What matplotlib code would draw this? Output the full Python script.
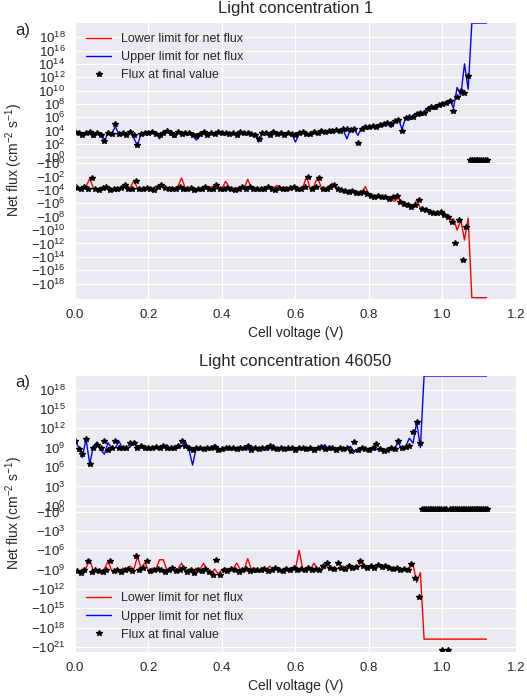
import numpy as np
import matplotlib
matplotlib.use('Agg')
import matplotlib.pyplot as plt
import matplotlib.ticker as mticker
import seaborn as sns

sns.set_style('darkgrid')
plt.rcParams['font.family'] = ['Liberation Sans', 'DejaVu Sans']
plt.rcParams['mathtext.fontset'] = 'custom'
plt.rcParams['mathtext.rm'] = 'Liberation Sans'
plt.rcParams['mathtext.it'] = 'Liberation Sans:italic'
plt.rcParams['mathtext.bf'] = 'Liberation Sans:bold'

# voltage sweep, 0.00 .. 1.12 V
volt = np.linspace(0, 1.12, 113)

# ---- light concentration 1 ----
top_upper = [8e3, 5e3, 3e3, 6e3, 4e3, 1e3, 5e3, 3e3, 2e2, 6e3,
             4e3, 4e4, 2.5e3, 6e3, 3e3, 5e3, 8e2, 6e1, 4e3, 6e3,
             3e3, 5e3, 4e3, 6e2, 5e3, 6e3, 3e3, 1e3, 5e3, 4e3,
             6e3, 3e3, 2.5e3, 4e2, 1.6e3, 5e3, 3e3, 6e3, 2.5e3, 4e3,
             5e3, 3e3, 6e3, 4e3, 2e3, 5e3, 3e3, 6e3, 4e3, 2.5e3,
             2e2, 4e3, 6e3, 3e3, 5e3, 4e3, 6e3, 2.5e3, 4e3, 3e3,
             2e2, 3e3, 5e3, 4e3, 2.5e3, 5e3, 6e3, 4e3, 8e3, 6e3,
             1e4, 8e3, 1.6e4, 1.3e4, 6e2, 2e4, 1.6e4, 2e3, 3e4, 2.5e4,
             5e4, 3e4, 6e4, 4e4, 1.6e5, 1e5, 3e4, 2e5, 6e5, 1.6e4,
             1e6, 4e5, 2e6, 4e6, 1.6e6, 8e6, 2.5e7, 6e7, 1.6e7, 8e7,
             1.3e8, 2e8, 4e8, 2.5e7, 3e10, 2e9, 1e14, 1.6e10, 1.3e20, 1.3e20,
             1.3e20, 1.3e20, 1.3e20]
top_lower = [-1e3, -4e3, -6e3, -3e3, -2e2, -5e3, -8e3, -4e3, -6e3, -3e3,
             -6e3, -8e3, -5e3, -3e3, -6e3, -5e3, -4e2, -5e3, -6e3, -4e3,
             -8e3, -5e3, -3e3, -2e3, -5e3, -6e3, -4e3, -5e3, -3e3, -1.6e2,
             -5e3, -6e3, -4e3, -8e3, -5e3, -3e3, -6e3, -4e3, -2e3, -5e3,
             -6e3, -5e2, -4e3, -6e3, -5e3, -3e3, -6e3, -2.5e2, -5e3, -4e3,
             -6e3, -5e3, -3e3, -6e3, -5e3, -2e3, -5e3, -4e3, -6e3, -5e3,
             -3e3, -5e3, -4e3, -1e2, -5e3, -3e3, -1.3e2, -4e3, -6e3, -3e3,
             -1e3, -5e3, -8e3, -1e4, -1.6e4, -1.3e4, -2e4, -1.6e4, -2.5e4, -3e3,
             -5e4, -1e5, -6e4, -8e4, -1e5, -1.6e5, -3e5, -5e5, -1.6e5, -1e6,
             -3e6, -1.6e6, -4e6, -3e5, -5e6, -8e6, -1.3e7, -1.6e7, -2e7, -1.6e7,
             -3e7, -5e7, -3e8, -2e8, -1e10, -3e8, -3e11, -1.6e8, -1.3e20, -1.3e20,
             -1.3e20, -1.3e20, -1.3e20]
# final flux: positive values at 0.00..1.07, negative at 0.005..1.065, zero after
top_flux_pos = [6e3, 5e3, 2e3, 5e3, 6e3, 2e3, 4e3, 2.5e3, 3e2, 5e3,
                3e3, 1e5, 3e3, 5e3, 2e3, 6e3, 2e3, 8e1, 3e3, 5e3,
                4e3, 6e3, 3e3, 2e3, 4e3, 8e3, 4e3, 2e3, 6e3, 3e3,
                5e3, 4e3, 2e3, 1.6e3, 3e3, 6e3, 2.5e3, 5e3, 3e3, 6e3,
                4e3, 5e3, 3e3, 5e3, 2.5e3, 6e3, 4e3, 5e3, 3e3, 2e3,
                5e2, 5e3, 4e3, 2.5e3, 6e3, 3e3, 5e3, 2e3, 5e3, 3e3,
                2e3, 4e3, 6e3, 3e3, 3e3, 6e3, 5e3, 8e3, 6e3, 1e4,
                8e3, 1.3e4, 1e4, 1.6e4, 2e4, 1.3e4, 2e4, 1.6e2, 2e4, 3e4,
                4e4, 5e4, 4e4, 8e4, 1e5, 1.3e5, 1e5, 3e5, 4e5, 1e4,
                8e5, 1.3e6, 1e6, 3e6, 4e6, 5e6, 1.6e7, 3e7, 4e7, 6e7,
                1e8, 1.6e8, 3e8, 1e7, 1.3e9, 1e10, 5e9, 1.6e12]
top_flux_neg = [-5e3, -8e3, -3e3, -6e3, -1.6e2, -6e3, -1e4, -5e3, -4e3, -1e4,
                -6e3, -8e3, -5e3, -1.6e3, -6e3, -8e3, -5e2, -6e3, -8e3, -5e3,
                -6e3, -1e4, -4e3, -2e3, -5e3, -8e3, -6e3, -8e3, -4e3, -6e3,
                -8e3, -5e3, -1e4, -6e3, -8e3, -3e3, -6e3, -8e3, -2e3, -6e3,
                -8e3, -5e3, -6e3, -1e4, -6e3, -4e3, -8e3, -3e3, -6e3, -8e3,
                -6e3, -8e3, -4e3, -6e3, -1e4, -5e3, -6e3, -8e3, -5e3, -4e3,
                -6e3, -8e3, -3e3, -1e2, -6e3, -4e3, -1.6e2, -6e3, -8e3, -4e3,
                -2e3, -6e3, -1e4, -1.6e4, -2e4, -1.6e4, -2.5e4, -3e4, -2e4, -4e4,
                -8e4, -1e5, -8e4, -1.3e5, -1e5, -2e5, -1.3e5, -8e4, -6e5, -1.3e6,
                -2e6, -3e6, -2e6, -3e5, -6e6, -1e7, -2e7, -2.5e7, -3e7, -2e7,
                -5e7, -1e8, -6e8, -1e12, -3e8, -3e14, -4e9]
top_flux_tail = [0, 0, 0, 0, 0, 0, 0, 0, 0, 0]

# ---- light concentration 46050 ----
bot_upper = [1.6e10, 1e9, 3e7, 2.5e10, 3e6, 1.6e9, 8e9, 5e8, 1e8, 6e9,
             8e8, 1e9, 1e10, 6e8, 8e8, 1.3e9, 8e9, 6e8, 1e9, 8e8,
             1.3e9, 1e9, 8e8, 1.6e9, 1e9, 3e9, 6e8, 1.3e9, 8e8, 1.6e9,
             1e10, 6e8, 2e6, 1e9, 6e8, 1e9, 5e8, 8e8, 3e9, 5e8,
             8e8, 6e8, 1.3e9, 5e8, 1e9, 6e8, 8e8, 5e8, 2e9, 6e8,
             1e9, 5e8, 8e8, 6e8, 3e9, 5e8, 8e8, 1e9, 4e8, 8e8,
             6e8, 1.3e9, 5e8, 8e8, 4e8, 1e9, 6e8, 8e8, 3e9, 5e8,
             8e8, 6e8, 1e9, 4e8, 8e8, 1.6e9, 2e8, 6e8, 8e8, 4e8,
             6e8, 1e9, 5e8, 8e8, 3e8, 6e8, 4e8, 1e9, 6e9, 5e8,
             1.6e9, 3e10, 5e9, 1e13, 1e9, 1.3e20, 1.3e20, 1.3e20, 1.3e20, 1.3e20,
             1.3e20, 1.3e20, 1.3e20, 1.3e20, 1.3e20, 1.3e20, 1.3e20, 1.3e20, 1.3e20, 1.3e20,
             1.3e20, 1.3e20, 1.3e20]
bot_lower = [-1e9, -3e9, -1e9, -6e8, -3e7, -1.6e9, -1e9, -2e9, -8e8, -5e7,
             -1.6e9, -1e9, -2e9, -6e8, -1e9, -3e8, -1e9, -1e7, -6e8, -8e7,
             -1.3e9, -6e8, -1e9, -3e7, -3e7, -1e9, -6e8, -2e9, -8e8, -1e8,
             -1.6e9, -8e8, -3e9, -6e8, -1e9, -1e8, -1.6e9, -6e9, -8e8, -5e9,
             -1e9, -6e8, -1.6e9, -8e8, -1e8, -1e9, -1.3e9, -2e7, -1e9, -6e8,
             -1.6e9, -5e8, -1e9, -3e8, -1e9, -8e8, -1.6e9, -6e8, -1e9, -5e8,
             -8e8, -1e6, -1e9, -6e8, -1.6e9, -1e8, -8e8, -1.3e9, -5e8, -2e8,
             -1e9, -6e8, -8e8, -3e8, -6e8, -4e8, -3e8, -5e8, -4e7, -3e8,
             -4e8, -6e8, -2e8, -3e8, -5e8, -2e8, -4e8, -6e8, -1e9, -8e8,
             -1.3e9, -6e8, -1.6e8, -1e11, -3e9, -6e19, -6e19, -6e19, -6e19, -6e19,
             -6e19, -6e19, -6e19, -6e19, -6e19, -6e19, -6e19, -6e19, -6e19, -6e19,
             -6e19, -6e19, -6e19]
bot_flux_pos = [1.3e10, 6e8, 1e8, 2.5e10, 2.5e6, 1e9, 3e9, 1e9, 1.3e10, 5e8,
                1e9, 1.3e10, 1e9, 8e8, 1e9, 6e9, 5e9, 8e8, 1.6e9, 1e9,
                8e8, 1e9, 1.3e9, 8e8, 1.6e9, 1e9, 1e9, 8e8, 2e9, 1.3e10,
                2e9, 1e9, 5e8, 8e8, 1e9, 6e8, 1e9, 8e8, 1.3e9, 5e8,
                6e8, 1e9, 8e8, 1e9, 6e8, 1e9, 8e8, 1.6e9, 5e8, 1e9,
                6e8, 1e9, 8e8, 2e9, 1e9, 6e8, 1e9, 6e8, 8e8, 1e9,
                5e8, 8e8, 1e9, 6e8, 1e9, 5e8, 1e9, 1.3e9, 6e8, 8e8,
                1e9, 5e8, 8e8, 6e8, 1e9, 3e8, 8e9, 5e8, 8e8, 6e8,
                5e8, 8e8, 4e9, 6e8, 3e8, 5e8, 8e8, 6e8, 1e10, 1e9,
                1.3e9, 2e9, 3e11, 1e13, 6e9]
bot_flux_neg = [-1.6e9, -3e9, -1e9, -5e7, -2e9, -1e9, -1.6e9, -2e9, -1e9, -5e7,
                -1.6e9, -1e9, -2e9, -1e9, -8e8, -1.6e9, -8e6, -1e9, -6e8, -5e7,
                -1.6e9, -1e9, -8e8, -1e9, -2e9, -1e9, -6e8, -1.6e9, -1e9, -5e8,
                -2e9, -1e9, -3e9, -1e9, -1.6e9, -8e8, -2e9, -6e9, -3e7, -6e9,
                -1e9, -1.6e9, -8e8, -1e9, -2e9, -1e9, -8e8, -1.6e9, -1e9, -1.3e9,
                -1e9, -8e8, -1.6e9, -1e9, -6e8, -1e9, -1.6e9, -8e8, -1e9, -6e8,
                -1e9, -8e8, -1.3e9, -6e8, -1e9, -8e8, -1e9, -3e8, -1e8, -6e8,
                -8e8, -1e8, -6e8, -8e8, -3e8, -6e8, -4e8, -4e7, -3e8, -6e8,
                -3e8, -5e8, -2e8, -4e8, -3e8, -6e8, -8e8, -6e8, -1e9, -8e8,
                -1e9, -1.6e8, -2e10, -1.6e13]
bot_flux_tail = [0, 0, 0, 0, 0, 0, 0, 0, 0, 0, 0, -2.5e21, 0, 0, -2.5e21, 0, 0, 0,
                 0, 0, 0, 0, 0, 0, 0, 0, 0, 0, 0, 0, 0, 0, 0, 0, 0, 0]

top_flux_v = np.concatenate([volt[:len(top_flux_pos)], volt[:len(top_flux_neg)] + 0.005,
                             np.linspace(1.075, 1.12, len(top_flux_tail))])
top_flux = np.concatenate([top_flux_pos, top_flux_neg, top_flux_tail])
bot_flux_v = np.concatenate([volt[:len(bot_flux_pos)], volt[:len(bot_flux_neg)] + 0.005,
                             np.linspace(0.945, 1.12, len(bot_flux_tail))])
bot_flux = np.concatenate([bot_flux_pos, bot_flux_neg, bot_flux_tail])


def symlog_label(y, pos):
    if y == 0:
        return '0'
    e = int(round(np.log10(abs(y))))
    sign = '-' if y < 0 else ''
    return r'$\mathdefault{%s10^{%d}}$' % (sign, e)


def draw(ax, title, upper, lower, fv, flux, pos_exp, neg_exp, ylim, loc):
    ax.plot(volt, lower, color='red', lw=1, label='Lower limit for net flux')
    ax.plot(volt, upper, color='blue', lw=1, label='Upper limit for net flux')
    ax.plot(fv, flux, 'k*', ms=3.8, label='Flux at final value')
    ax.set_yscale('symlog', linthresh=1, linscale=0.4)
    ticks = sorted([-10.0 ** e for e in neg_exp] + [10.0 ** e for e in pos_exp])
    ax.set_yticks(ticks)
    ax.yaxis.set_major_formatter(mticker.FuncFormatter(symlog_label))
    ax.yaxis.set_minor_locator(mticker.NullLocator())
    ax.set_ylim(ylim)
    ax.set_xlim(0, 1.2)
    ax.set_xticks([0.0, 0.2, 0.4, 0.6, 0.8, 1.0, 1.2])
    ax.tick_params(labelsize=9.5)
    ax.set_title(title, fontsize=12)
    ax.set_xlabel('Cell voltage (V)', fontsize=10)
    ax.set_ylabel(r'Net flux (cm$^{-2}$ s$^{-1}$)', fontsize=10)
    ax.legend(loc=loc, fontsize=9, numpoints=1, frameon=False)


fig, (ax1, ax2) = plt.subplots(2, 1, figsize=(5.27, 6.99), dpi=100)
fig.subplots_adjust(left=0.1423, right=0.979, top=0.969, bottom=0.0672, hspace=0.2726)

draw(ax1, 'Light concentration 1', top_upper, top_lower, top_flux_v, top_flux,
     range(0, 19, 2), range(0, 19, 2), (-2.1e20, 2.1e20), 'upper left')
draw(ax2, 'Light concentration 46050', bot_upper, bot_lower, bot_flux_v, bot_flux,
     range(0, 19, 3), range(0, 22, 3), (-6e21, 2.1e20), 'lower left')

fig.text(0.028, 1 - 30 / 699, 'a)', fontsize=12, va='center', color='.15')
fig.text(0.028, 1 - 382 / 699, 'a)', fontsize=12, va='center', color='.15')

fig.savefig('out.png', dpi=100)
